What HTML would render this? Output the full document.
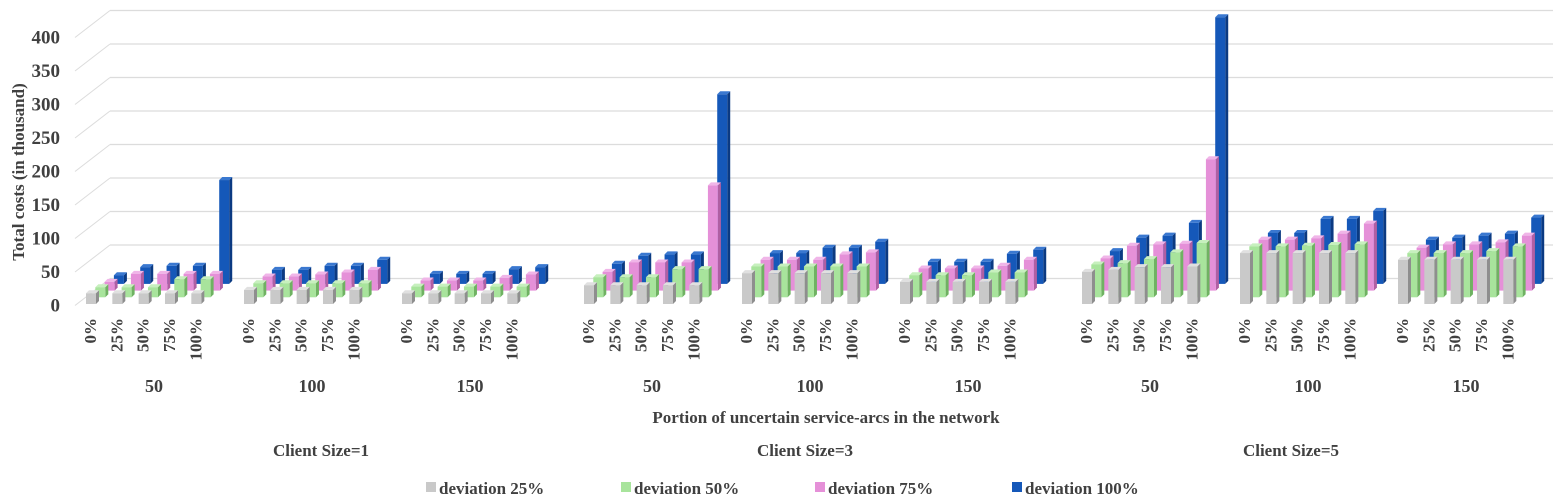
<!DOCTYPE html>
<html><head><meta charset="utf-8"><style>
html,body{margin:0;padding:0;background:#fff;}
svg{display:block;font-family:"Liberation Serif",serif;font-weight:bold;}
</style></head><body>
<svg id="chart" width="1560" height="501" viewBox="0 0 1560 501" xmlns="http://www.w3.org/2000/svg">
<g id="walls"></g>
<g id="yticks"></g>
<text x="0" y="0" transform="translate(24,172) rotate(-90)" text-anchor="middle" font-size="17" fill="#404040">Total costs (in thousand)</text>
<g id="bars"></g>
<g id="xlabels"></g>
<text x="826" y="423" text-anchor="middle" font-size="17" fill="#404040">Portion of uncertain service-arcs in the network</text>
<g id="legend"></g>
</svg>
<script>
const portions = ["0%","25%","50%","75%","100%"];
const networks = ["50","100","150"];
const clients = ["Client Size=1","Client Size=3","Client Size=5"];
const seriesNames = ["deviation 25%","deviation 50%","deviation 75%","deviation 100%"];
const yTicks = [0,50,100,150,200,250,300,350,400];
const dev25 = [16,16,16,16,16, 21,21,21,21,21, 16,16,16,16,16, 28,28,28,28,28, 46,46,46,46,46, 33,33,33,33,33, 48,51,55,55,56, 76,76,76,76,76, 66,66,66,66,66];
const dev50 = [15,15,15,27,27, 21,21,21,21,21, 16,16,16,16,16, 30,30,30,42,42, 46,46,46,46,46, 33,33,33,37,37, 49,51,57,67,81, 76,76,77,78,79, 66,66,66,69,76];
const dev75 = [13,25,25,25,25, 21,21,24,27,31, 15,15,15,19,24, 28,42,42,42,157, 46,46,46,54,57, 33,33,33,37,46, 48,67,69,70,196, 76,76,78,85,100, 64,69,69,72,82];
const dev100 = [13,25,27,27,155, 21,21,27,27,36, 15,15,15,22,25, 30,42,44,44,283, 46,46,54,54,63, 33,33,33,45,51, 49,69,72,91,398, 76,76,97,97,109, 66,69,72,75,99];

const NS="http://www.w3.org/2000/svg";
function mk(tag, attrs, parent){const e=document.createElementNS(NS,tag);for(const k in attrs)e.setAttribute(k,attrs[k]);parent.appendChild(e);return e;}
const yFront = v => 305 - v*0.67;
const catX = i => { const c=Math.floor(i/15), n=Math.floor(i/5)%3, p=i%5; return 86 + (c*3+n)*158 + c*24 + p*26.33; };

const walls=document.getElementById('walls');
yTicks.forEach(t=>{
  const yb=yFront(t)-26.5;
  const l=mk('line',{x1:110,y1:yb,x2:1553,y2:yb,stroke:'#dcdcdc','stroke-width':1.3},walls);
  
  
  const d=mk('line',{x1:75,y1:yb+27,x2:110,y2:yb,stroke:'#dcdcdc','stroke-width':1},walls);
  
  
});
const yt=document.getElementById('yticks');
yTicks.forEach(t=>{
  const e=mk('text',{x:60,y:yFront(t)+6.5,'text-anchor':'end','font-size':19,fill:'#404040'},yt);
  e.textContent=t;
  
  
});

const colors=[
 {f:'#c9c9c9',s:'#8e8e8e',t:'#e0e0e0'},
 {f:'#a8e49c',s:'#6fb262',t:'#c7f0be'},
 {f:'#e590d8',s:'#b05fa3',t:'#f0b5e8'},
 {f:'#1558b9',s:'#0b3a82',t:'#3a78d0'}];
const series=[dev25,dev50,dev75,dev100];
const bars=document.getElementById('bars');
for(let r=3;r>=0;r--){
  const data=series[r];
  for(let i=0;i<data.length;i++){
    const x=catX(i)+r*9.3, base=304-r*6.7, h=data[i]*0.67, top=base-h, c=colors[r];
    const g=mk('g',{},bars);
    
    
    mk('polygon',{points:`${x+10},${top} ${x+13},${top-3} ${x+13},${base-3} ${x+10},${base}`,fill:c.s},g);
    mk('polygon',{points:`${x},${top} ${x+3},${top-3} ${x+13},${top-3} ${x+10},${top}`,fill:c.t},g);
    mk('rect',{x:x,y:top,width:10,height:h,fill:c.f},g);
  }
}

const xl=document.getElementById('xlabels');
for(let i=0;i<45;i++){
  const x=catX(i)+10;
  const e=mk('text',{transform:`translate(${x},318) rotate(-90)`,'text-anchor':'end','font-size':17,fill:'#404040'},xl);
  e.textContent=portions[i%5];
  
  
}
for(let g=0;g<9;g++){
  const e=mk('text',{x:catX(g*5)+68,y:392,'text-anchor':'middle','font-size':18,fill:'#404040'},xl);
  e.textContent=networks[g%3];
  
  
}
[321,805,1291].forEach((cx,k)=>{
  const e=mk('text',{x:cx,y:456,'text-anchor':'middle','font-size':17,fill:'#404040'},xl);
  e.textContent=clients[k];
  
  
});

const lg=document.getElementById('legend');
[426,621,815,1012].forEach((lx,k)=>{
  const g=mk('g',{},lg);
  
  
  mk('rect',{x:lx,y:482,width:10,height:10,fill:colors[k].f},g);
  const t=mk('text',{x:lx+13,y:494,'font-size':17,fill:'#404040'},g);
  t.textContent=seriesNames[k];
});
</script>
</body></html>
